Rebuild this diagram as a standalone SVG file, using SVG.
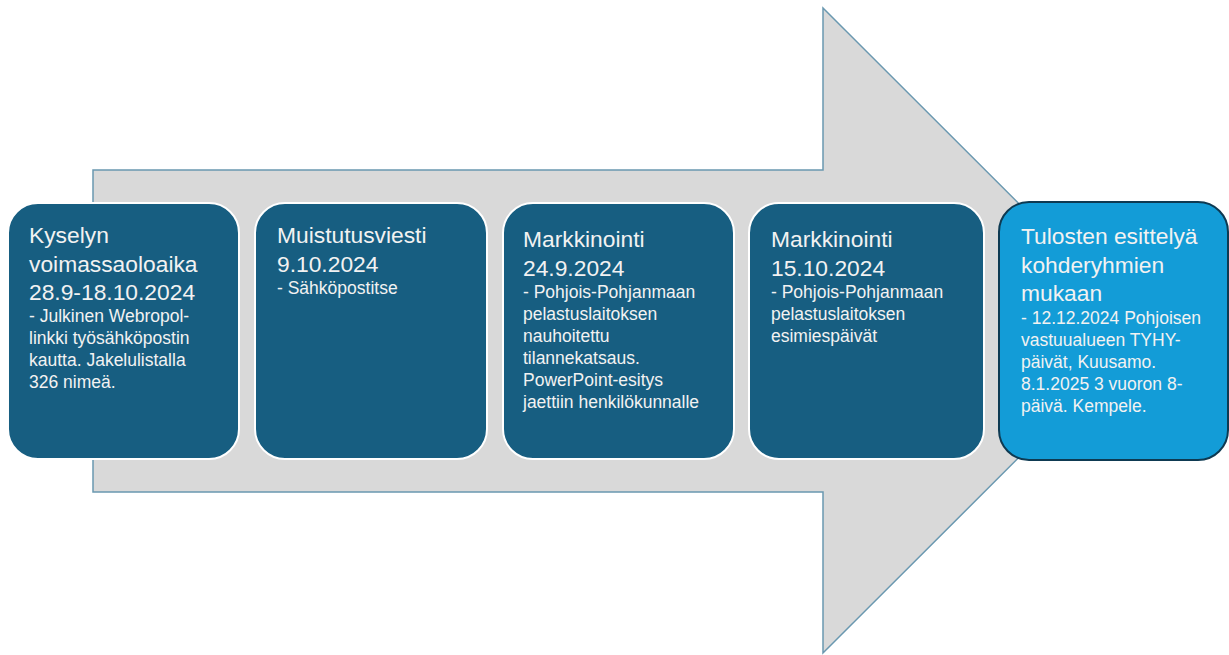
<svg xmlns="http://www.w3.org/2000/svg" width="1229" height="655" viewBox="0 0 1229 655">
<style>
.box{fill:#175E81;stroke:#FFFFFF;stroke-width:2}
.box5{fill:#139CD7;stroke:#0E3A52;stroke-width:2}
.t{font-family:"Liberation Sans",Arial,sans-serif;fill:#F2F2F2}
.h{font-size:22.8px}
.b{font-size:17.5px}
</style>
<rect width="1229" height="655" fill="#FFFFFF"/>
<g id="arrow">
<polygon points="93,170 823,170 823,8 1146,330.5 823,653 823,492 93,492" fill="#D9D9D9" stroke="#6A98B0" stroke-width="1.5" stroke-linejoin="miter"/>
</g>
<g id="connectors"></g>
<g id="node1">
<rect class="box" x="8" y="203" width="231" height="256" rx="30"/>
<text class="t h"><tspan x="29" y="243">Kyselyn</tspan><tspan x="29" y="272">voimassaoloaika</tspan><tspan x="29" y="300">28.9-18.10.2024</tspan></text>
<text class="t b"><tspan x="29" y="322">- Julkinen Webropol-</tspan><tspan x="29" y="344">linkki työsähköpostin</tspan><tspan x="29" y="366">kautta. Jakelulistalla</tspan><tspan x="29" y="388">326 nimeä.</tspan></text>
</g>
<g id="node2">
<rect class="box" x="255" y="203" width="232" height="256" rx="30"/>
<text class="t h"><tspan x="277" y="243">Muistutusviesti</tspan><tspan x="277" y="272">9.10.2024</tspan></text>
<text class="t b"><tspan x="277" y="294">- Sähköpostitse</tspan></text>
</g>
<g id="node3">
<rect class="box" x="503" y="203" width="231" height="256" rx="30"/>
<text class="t h"><tspan x="523" y="247">Markkinointi</tspan><tspan x="523" y="276">24.9.2024</tspan></text>
<text class="t b"><tspan x="523" y="298">- Pohjois-Pohjanmaan</tspan><tspan x="523" y="320">pelastuslaitoksen</tspan><tspan x="523" y="342">nauhoitettu</tspan><tspan x="523" y="364">tilannekatsaus.</tspan><tspan x="523" y="386">PowerPoint-esitys</tspan><tspan x="523" y="408">jaettiin henkilökunnalle</tspan></text>
</g>
<g id="node4">
<rect class="box" x="749" y="203" width="235" height="256" rx="30"/>
<text class="t h"><tspan x="771" y="247">Markkinointi</tspan><tspan x="771" y="276">15.10.2024</tspan></text>
<text class="t b"><tspan x="771" y="298">- Pohjois-Pohjanmaan</tspan><tspan x="771" y="320">pelastuslaitoksen</tspan><tspan x="771" y="342">esimiespäivät</tspan></text>
</g>
<g id="node5">
<rect class="box5" x="999" y="202" width="229" height="258" rx="30"/>
<text class="t h"><tspan x="1021" y="244">Tulosten esittelyä</tspan><tspan x="1021" y="273">kohderyhmien</tspan><tspan x="1021" y="301">mukaan</tspan></text>
<text class="t b"><tspan x="1021" y="324">- 12.12.2024 Pohjoisen</tspan><tspan x="1021" y="346">vastuualueen TYHY-</tspan><tspan x="1021" y="368">päivät, Kuusamo.</tspan><tspan x="1021" y="390">8.1.2025 3 vuoron 8-</tspan><tspan x="1021" y="412">päivä. Kempele.</tspan></text>
</g>
</svg>
